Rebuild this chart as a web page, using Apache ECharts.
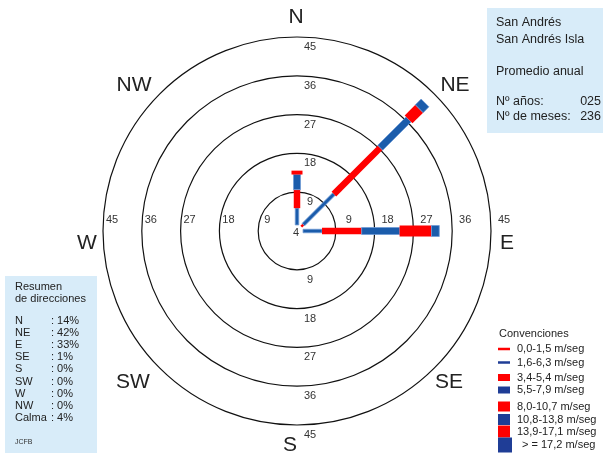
<!DOCTYPE html>
<html>
<head>
<meta charset="utf-8">
<title>Rosa de vientos - San Andrés</title>
<script src="https://cdn.jsdelivr.net/npm/echarts@6/dist/echarts.min.js"></script>
<style>
  html, body { margin: 0; padding: 0; background: #ffffff; }
  #chart { width: 603px; height: 458px; }
</style>
</head>
<body>
<div id="chart"></div>
<script>
// ---- Data ----
const directions = ['N', 'NE', 'E', 'SE', 'S', 'SW', 'W', 'NW'];
const directionAngles = [0, 45, 90, 135, 180, 225, 270, 315];
const speedClasses = [
  '0,0-1,5 m/seg', '1,6-6,3 m/seg', '3,4-5,4 m/seg', '5,5-7,9 m/seg',
  '8,0-10,7 m/seg', '10,8-13,8 m/seg', '13,9-17,1 m/seg', '> = 17,2 m/seg'
];
// frequency (%) of each speed class, per direction
const freqN  = [0.0, 3.9, 4.3, 3.5, 0.9, 0.0, 0.0, 0.0];
const freqNE = [0.7, 10.0, 15.2, 9.3, 3.5, 1.9, 0.0, 0.0];
const freqE  = [0.0, 4.4, 9.2, 8.8, 7.4, 1.8, 0.0, 0.0];
const freqSE = [0, 0, 0, 0, 0, 0, 0, 0];
const freqS  = [0, 0, 0, 0, 0, 0, 0, 0];
const freqSW = [0, 0, 0, 0, 0, 0, 0, 0];
const freqW  = [0, 0, 0, 0, 0, 0, 0, 0];
const freqNW = [0, 0, 0, 0, 0, 0, 0, 0];
const calmPercent = 4;
const summaryPercent = [14, 42, 33, 1, 0, 0, 0, 0];
const ringTicks = [9, 18, 27, 36, 45];
const ringLabelAngles = [0, 90, 180, 270];
const stationLines = ['San Andrés', 'San Andrés Isla', '', 'Promedio anual'];
const yearsCount = '025';
const monthsCount = '236';

// ---- Styling ----
const RED = '#ff0000';
const BLUE = '#1b5cab';
const LEGEND_BLUE = '#1f3d96';
const FONT = '"Liberation Sans", Arial, Helvetica, sans-serif';
const HUB = 1.4;                                   // bars start just off the centre
const classWidths = [2.5, 3.5, 6.5, 7, 11, 11, 14, 16]; // px, per speed class
const classColors = speedClasses.map((_, i) => (i % 2 === 0 ? RED : BLUE));

const freqByDir = [freqN, freqNE, freqE, freqSE, freqS, freqSW, freqW, freqNW];

// stacked segments: [rEnd, angle, rStart, classIndex]
const segments = [];
freqByDir.forEach((freqs, d) => {
  let r = HUB;
  freqs.forEach((f, c) => {
    if (f > 0) {
      segments.push([r + f, directionAngles[d], r, c]);
      r += f;
    }
  });
});

const ringLabelData = [];
ringLabelAngles.forEach(a => ringTicks.forEach(v => ringLabelData.push([v, a])));

const ringLabelOffset = {
  0:   [13, 10],
  90:  [13, -11],
  180: [13, 10],
  270: [9, -11]
};

function renderSegment(params, api) {
  const rEnd = api.value(0);
  const angle = api.value(1);
  const rStart = api.value(2);
  const cls = api.value(3);
  const p0 = api.coord([rStart, angle]);
  const p1 = api.coord([rEnd, angle]);
  const dx = p1[0] - p0[0], dy = p1[1] - p0[1];
  const len = Math.sqrt(dx * dx + dy * dy) || 1;
  const h = classWidths[cls] / 2;
  const nx = -dy / len * h, ny = dx / len * h;
  const isBlue = cls % 2 === 1;
  return {
    type: 'polygon',
    shape: {
      points: [
        [p0[0] + nx, p0[1] + ny], [p1[0] + nx, p1[1] + ny],
        [p1[0] - nx, p1[1] - ny], [p0[0] - nx, p0[1] - ny]
      ]
    },
    style: {
      fill: classColors[cls],
      stroke: isBlue ? '#6f9bd4' : null,
      lineWidth: isBlue ? 0.8 : 0
    }
  };
}

function renderRingLabel(params, api) {
  const v = api.value(0);
  const a = api.value(1);
  const p = api.coord([v, a]);
  const off = ringLabelOffset[a];
  return {
    type: 'text',
    x: p[0] + off[0],
    y: p[1] + off[1],
    style: {
      text: String(v), fill: '#333', font: '11px ' + FONT,
      align: 'center', verticalAlign: 'middle'
    }
  };
}

function renderCalm(params, api) {
  const p = api.coord([0, 0]);
  return {
    type: 'text', x: p[0] - 1, y: p[1] + 2,
    style: {
      text: String(api.value(2)), fill: '#333', font: '11px ' + FONT,
      align: 'center', verticalAlign: 'middle'
    }
  };
}

// ---- Decorations: compass letters, info boxes, legend ----
const graphics = [];
const compassPos = {
  N: [296, 17], NE: [455, 85], E: [507, 243], SE: [449, 382],
  S: [290, 445], SW: [133, 382], W: [87, 243], NW: [134, 85]
};
directions.forEach(d => {
  graphics.push({
    type: 'text', x: compassPos[d][0], y: compassPos[d][1],
    style: { text: d, fill: '#222', font: '21px ' + FONT, align: 'center', verticalAlign: 'middle' },
    z: 10
  });
});

// station box (top right)
graphics.push({ type: 'rect', shape: { x: 487, y: 8, width: 116, height: 125 }, style: { fill: '#d8ecf9' }, z: 1 });
const stationY = [23, 40, 56, 72];
stationLines.forEach((t, i) => {
  if (t) graphics.push({ type: 'text', x: 496, y: stationY[i], style: { text: t, fill: '#222', font: '12.5px ' + FONT, verticalAlign: 'middle' }, z: 2 });
});
graphics.push({ type: 'text', x: 496, y: 102, style: { text: 'Nº años:', fill: '#222', font: '12.5px ' + FONT, verticalAlign: 'middle' }, z: 2 });
graphics.push({ type: 'text', x: 601, y: 102, style: { text: yearsCount, fill: '#222', font: '12.5px ' + FONT, align: 'right', verticalAlign: 'middle' }, z: 2 });
graphics.push({ type: 'text', x: 496, y: 117, style: { text: 'Nº de meses:', fill: '#222', font: '12.5px ' + FONT, verticalAlign: 'middle' }, z: 2 });
graphics.push({ type: 'text', x: 601, y: 117, style: { text: monthsCount, fill: '#222', font: '12.5px ' + FONT, align: 'right', verticalAlign: 'middle' }, z: 2 });

// direction summary box (bottom left)
graphics.push({ type: 'rect', shape: { x: 5, y: 276, width: 92, height: 177 }, style: { fill: '#d8ecf9' }, z: 1 });
graphics.push({ type: 'text', x: 15, y: 287, style: { text: 'Resumen', fill: '#222', font: '11px ' + FONT, verticalAlign: 'middle' }, z: 2 });
graphics.push({ type: 'text', x: 15, y: 299, style: { text: 'de direcciones', fill: '#222', font: '11px ' + FONT, verticalAlign: 'middle' }, z: 2 });
const summaryRows = directions.map((d, i) => [d, summaryPercent[i]]).concat([['Calma', calmPercent]]);
summaryRows.forEach((row, i) => {
  const y = 321 + i * 12.1;
  graphics.push({ type: 'text', x: 15, y: y, style: { text: row[0], fill: '#222', font: '11px ' + FONT, verticalAlign: 'middle' }, z: 2 });
  graphics.push({ type: 'text', x: 51, y: y, style: { text: ': ' + row[1] + '%', fill: '#222', font: '11px ' + FONT, verticalAlign: 'middle' }, z: 2 });
});
graphics.push({ type: 'text', x: 15, y: 442, style: { text: 'JCFB', fill: '#333', font: '7px ' + FONT, verticalAlign: 'middle' }, z: 2 });

// speed-class legend (bottom right)
graphics.push({ type: 'text', x: 499, y: 334, style: { text: 'Convenciones', fill: '#222', font: '11px ' + FONT, verticalAlign: 'middle' }, z: 2 });
const legendRows = [
  { y: 349, h: 2.5, w: 12, tx: 517 },
  { y: 362.5, h: 2.5, w: 12, tx: 517 },
  { y: 377.5, h: 7, w: 12, tx: 517 },
  { y: 390, h: 7, w: 12, tx: 517 },
  { y: 406.5, h: 10, w: 12, tx: 517 },
  { y: 419.5, h: 11, w: 12, tx: 517 },
  { y: 431.5, h: 12, w: 12, tx: 517 },
  { y: 445, h: 15, w: 14, tx: 522 }
];
speedClasses.forEach((label, i) => {
  const r = legendRows[i];
  graphics.push({ type: 'rect', shape: { x: 498, y: r.y - r.h / 2, width: r.w, height: r.h },
    style: { fill: i % 2 === 0 ? RED : LEGEND_BLUE }, z: 2 });
  graphics.push({ type: 'text', x: r.tx, y: r.y, style: { text: label, fill: '#222', font: '11px ' + FONT, verticalAlign: 'middle' }, z: 2 });
});

// ---- Chart ----
const chart = echarts.init(document.getElementById('chart'), null, { renderer: 'canvas' });
chart.setOption({
  animation: false,
  backgroundColor: '#ffffff',
  polar: { center: [297, 231], radius: 194 },
  angleAxis: {
    type: 'value', min: 0, max: 360, startAngle: 90, clockwise: true,
    axisLine: { show: false }, axisTick: { show: false }, axisLabel: { show: false },
    splitLine: { show: false }
  },
  radiusAxis: {
    type: 'value', min: 0, max: 45, interval: 9,
    axisLine: { show: false }, axisTick: { show: false }, axisLabel: { show: false },
    splitLine: { show: true, lineStyle: { color: '#111', width: 1.2 } }
  },
  graphic: graphics,
  series: [
    {
      type: 'custom', name: 'rings', coordinateSystem: 'polar',
      renderItem: renderRingLabel, data: ringLabelData, silent: true, z: 3
    },
    {
      type: 'custom', name: 'calma', coordinateSystem: 'polar',
      renderItem: renderCalm, data: [[0, 0, calmPercent]], silent: true, z: 3
    },
    {
      type: 'custom', name: 'viento', coordinateSystem: 'polar',
      renderItem: renderSegment, data: segments, z: 4
    }
  ]
});
</script>
</body>
</html>
